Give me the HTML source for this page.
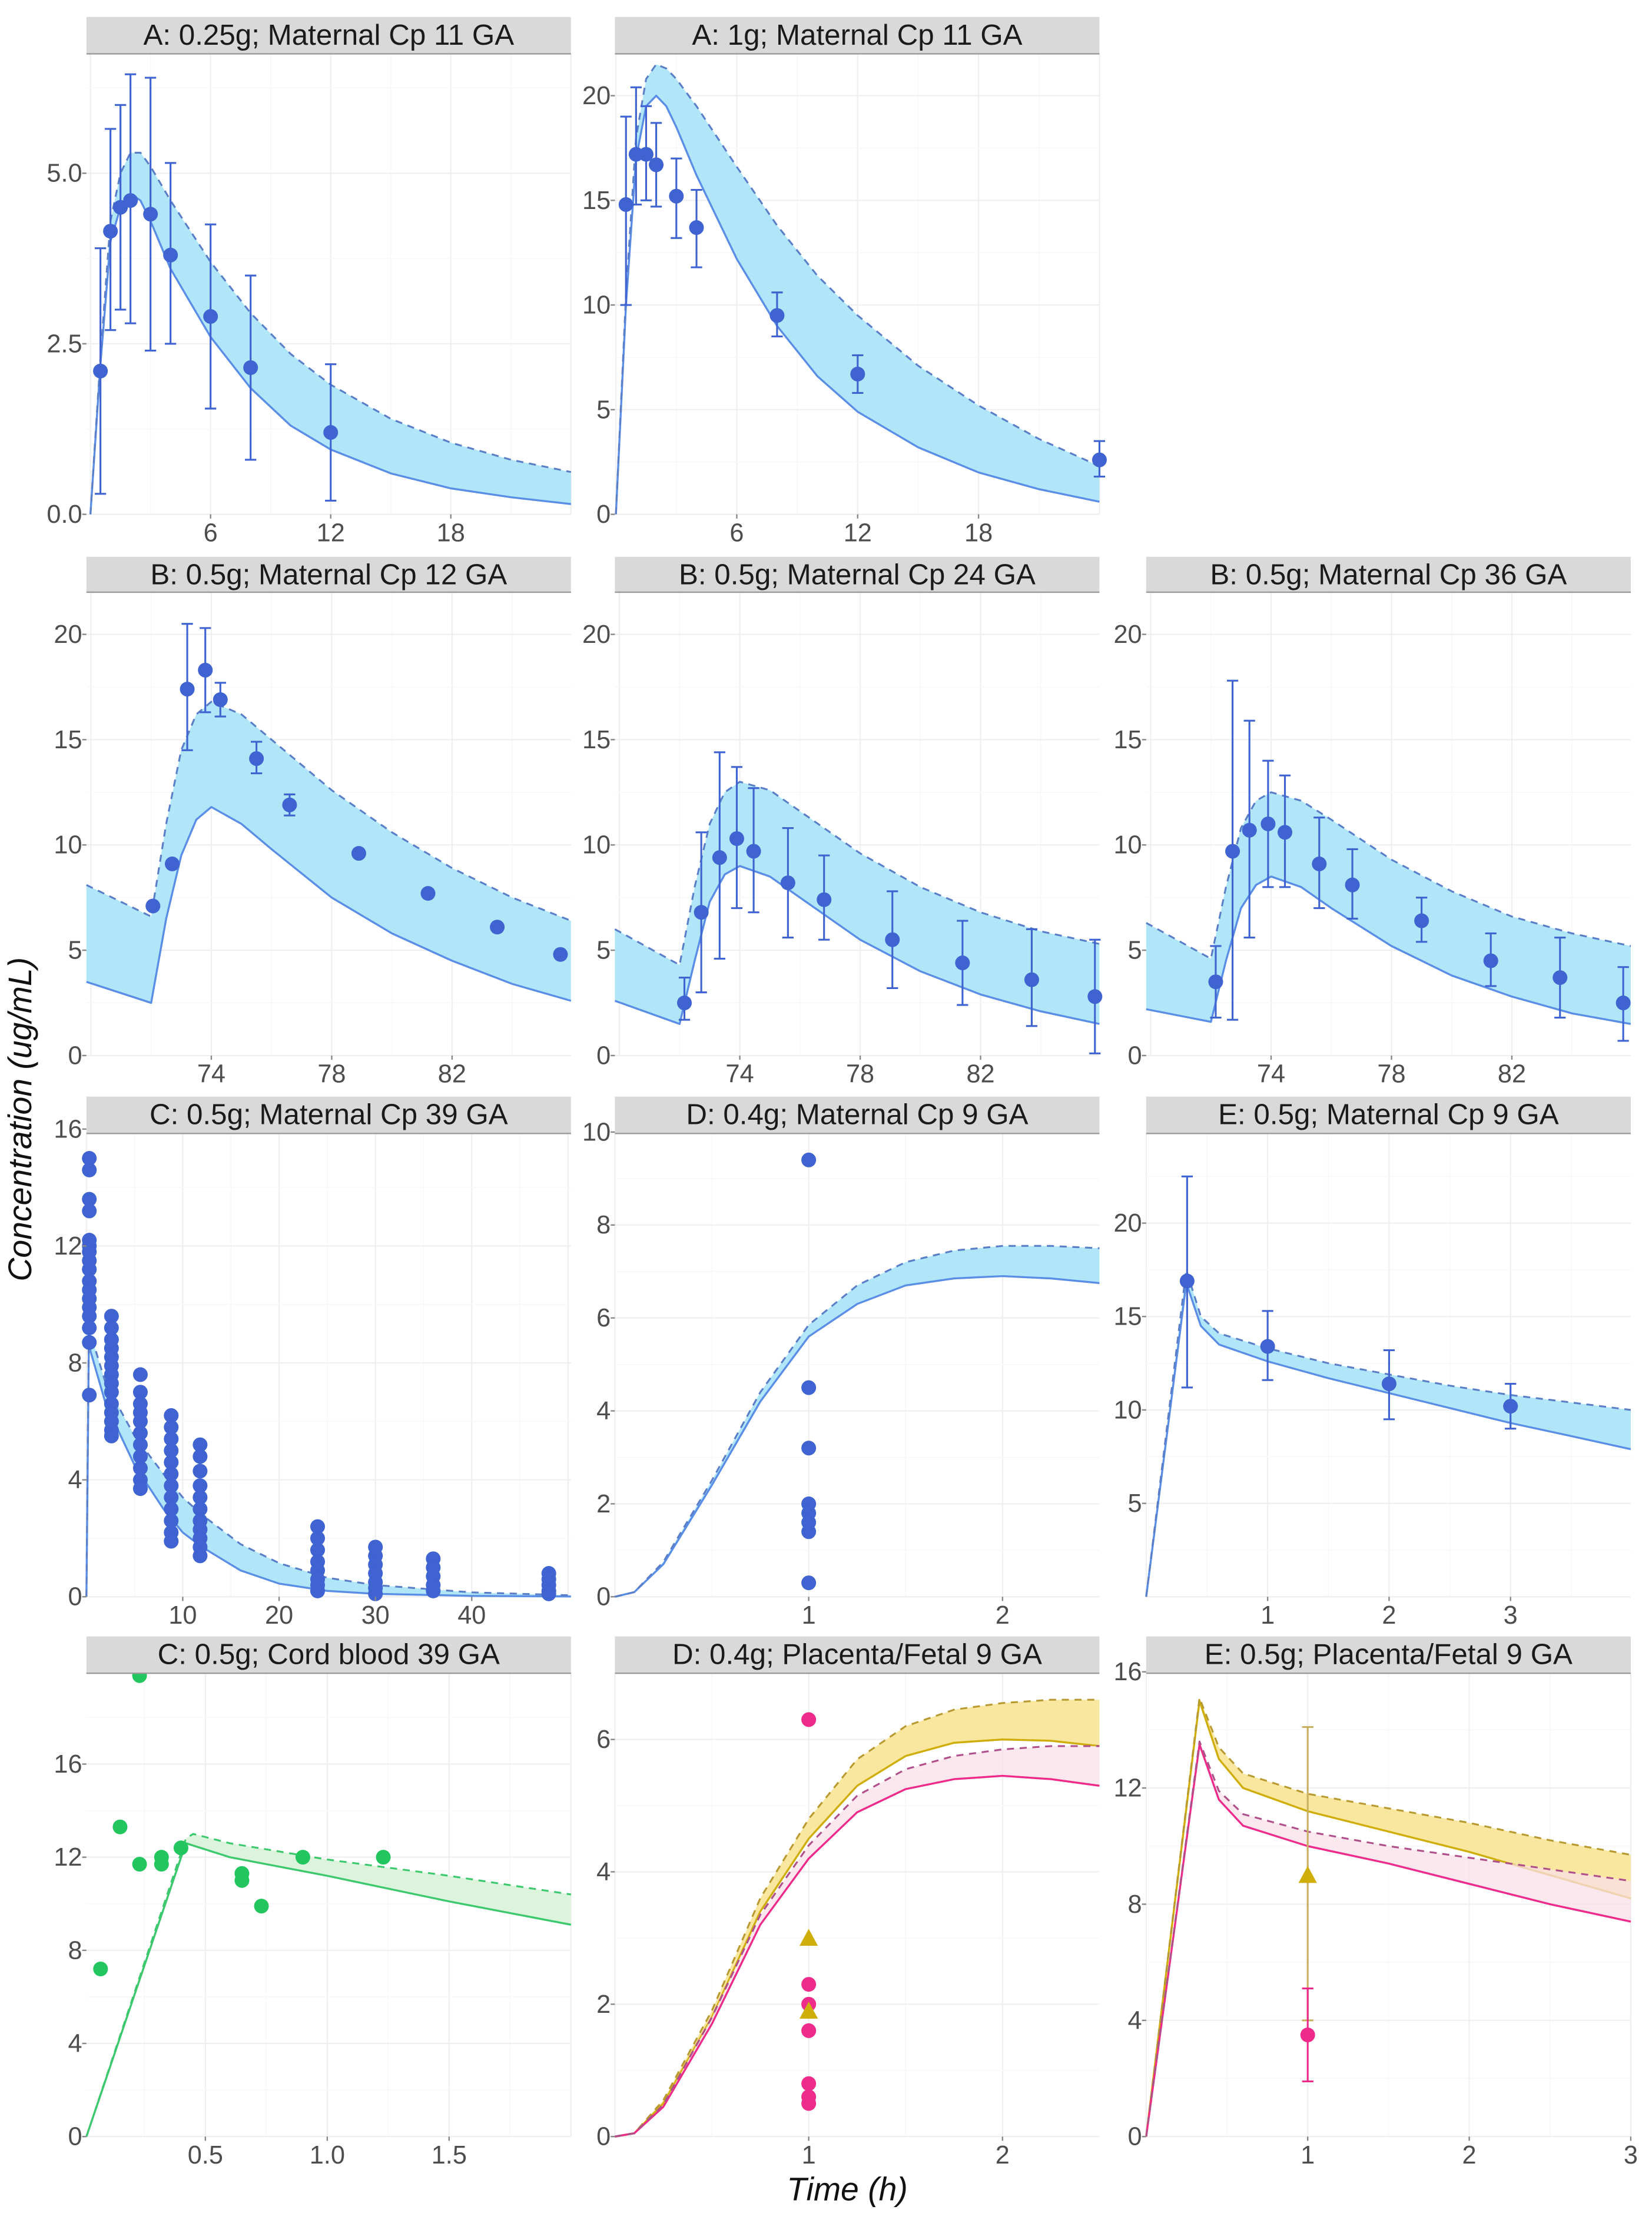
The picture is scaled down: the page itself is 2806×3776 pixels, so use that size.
<!DOCTYPE html>
<html><head><meta charset="utf-8"><style>
html,body{margin:0;padding:0;background:#fff}
svg{display:block}
text{font-family:"Liberation Sans",Arial,sans-serif}
</style></head><body>
<svg id="fig" width="2806" height="3776" viewBox="0 0 1166 1569" preserveAspectRatio="none" xmlns="http://www.w3.org/2000/svg">
<text x="0" y="0" transform="translate(22,790) rotate(-90)" text-anchor="middle" font-size="23" font-style="italic" fill="#111">Concentration (ug/mL)</text>
<text x="598" y="1553" text-anchor="middle" font-size="23" font-style="italic" fill="#111">Time (h)</text>
</svg>
<script>
// ---- Data arrays ----
const tA=[0,0.5,1,1.5,2,2.5,3,4,6,8,10,12,15,18,21,24];
const a1Lo=[0,2.2,4.0,4.5,4.7,4.6,4.3,3.6,2.6,1.85,1.3,0.95,0.6,0.38,0.25,0.15];
const a1Hi=[0,2.3,4.3,5.0,5.3,5.3,5.1,4.6,3.7,2.95,2.35,1.9,1.4,1.05,0.8,0.62];
const a1PtX=[0.5,1,1.5,2,3,4,6,8,12];
const a1PtY=[2.1,4.15,4.5,4.6,4.4,3.8,2.9,2.15,1.2];
const a1PtLo=[0.3,2.7,3.0,2.8,2.4,2.5,1.55,0.8,0.2];
const a1PtHi=[3.9,5.65,6.0,6.45,6.4,5.15,4.25,3.5,2.2];
const a2Lo=[0,10,17,19.5,20,19.5,18.5,16.2,12.2,9.0,6.6,4.9,3.2,2.0,1.2,0.6];
const a2Hi=[0,10.5,18,20.8,21.5,21.3,20.8,19.5,16.6,13.8,11.4,9.5,7.1,5.2,3.6,2.3];
const a2PtX=[0.5,1,1.5,2,3,4,8,12,24];
const a2PtY=[14.8,17.2,17.2,16.7,15.2,13.7,9.5,6.7,2.6];
const a2PtLo=[10,14.8,15,14.7,13.2,11.8,8.5,5.8,1.8];
const a2PtHi=[19,20.4,19.5,18.7,17,15.5,10.6,7.6,3.5];
const tB=[69.85,72,72.5,73,73.5,74,75,76,78,80,82,84,85.95];
const b12Lo=[3.5,2.5,6.5,9.5,11.2,11.8,11,9.8,7.5,5.8,4.5,3.4,2.6];
const b12Hi=[8.1,6.6,11,14.5,16.2,16.8,16.2,15,12.6,10.6,8.9,7.5,6.4];
const b12PtX=[72.06,72.7,73.2,73.8,74.3,75.5,76.6,78.9,81.2,83.5,85.6];
const b12PtY=[7.1,9.1,17.4,18.3,16.9,14.1,11.9,9.6,7.7,6.1,4.8];
const b12PtLo=[7.1,9.1,14.5,16.3,16.1,13.4,11.4,9.6,7.7,6.1,4.8];
const b12PtHi=[7.1,9.1,20.5,20.3,17.7,14.9,12.4,9.6,7.7,6.1,4.8];
const b24Lo=[2.6,1.5,4.5,7.3,8.6,9.0,8.5,7.5,5.5,4.0,2.9,2.1,1.5];
const b24Hi=[6.0,4.3,8,11,12.5,13.0,12.6,11.6,9.6,8.0,6.8,5.9,5.3];
const b24PtX=[72.16,72.72,73.33,73.9,74.46,75.6,76.8,79.07,81.4,83.7,85.8];
const b24PtY=[2.5,6.8,9.4,10.3,9.7,8.2,7.4,5.5,4.4,3.6,2.8];
const b24PtLo=[1.7,3,4.6,7,6.8,5.6,5.5,3.2,2.4,1.4,0.1];
const b24PtHi=[3.7,10.6,14.4,13.7,12.7,10.8,9.5,7.8,6.4,6,5.5];
const b36Lo=[2.2,1.6,4.5,7,8.1,8.5,8,7,5.2,3.8,2.8,2.0,1.5];
const b36Hi=[6.3,4.6,8,10.8,12.1,12.5,12.1,11.2,9.3,7.8,6.6,5.8,5.2];
const b36PtX=[72.16,72.72,73.28,73.9,74.46,75.6,76.7,79.0,81.3,83.6,85.7];
const b36PtY=[3.5,9.7,10.7,11,10.6,9.1,8.1,6.4,4.5,3.7,2.5];
const b36PtLo=[1.8,1.7,5.6,8,8,7,6.5,5.4,3.3,1.8,0.7];
const b36PtHi=[5.2,17.8,15.9,14,13.3,11.3,9.8,7.5,5.8,5.6,4.2];
const tC=[0,0.25,2,5,8,10,12,16,20,25,30,40,50.3];
const cLo=[0,8.6,6.6,4.5,3.0,2.2,1.7,0.9,0.45,0.2,0.1,0.03,0.01];
const cHi=[0,9.2,7.3,5.5,4.2,3.4,2.8,1.8,1.15,0.65,0.4,0.15,0.05];
const cTimes=[0.3,2.6,5.6,8.8,11.8,24,30,36,48];
const cVals=[
 [15,14.6,13.6,13.2,12.2,12,11.8,11.5,11.2,10.8,10.5,10.2,9.9,9.6,9.2,8.7,6.9],
 [9.6,9.2,8.8,8.5,8.2,7.9,7.6,7.3,7.0,6.6,6.3,6.0,5.7,5.5],
 [7.6,7.0,6.6,6.3,6.0,5.6,5.2,4.8,4.4,4.0,3.7],
 [6.2,5.8,5.4,5.0,4.6,4.2,3.8,3.4,3.0,2.6,2.2,1.9],
 [5.2,4.8,4.3,3.8,3.4,3.0,2.6,2.3,2.0,1.7,1.4],
 [2.4,2.0,1.6,1.2,0.9,0.6,0.4,0.2],
 [1.7,1.4,1.1,0.8,0.5,0.3,0.1],
 [1.3,1.0,0.7,0.4,0.2],
 [0.8,0.6,0.4,0.2,0.1]];
const tD=[0,0.1,0.25,0.5,0.75,1,1.25,1.5,1.75,2,2.25,2.5];
const dLo=[0,0.1,0.7,2.4,4.2,5.6,6.3,6.7,6.85,6.9,6.85,6.75];
const dHi=[0,0.1,0.75,2.5,4.4,5.85,6.7,7.2,7.45,7.55,7.55,7.5];
const dPtX=[1,1,1,1,1,1,1,1];
const dPtY=[9.4,4.5,3.2,2.0,1.8,1.6,1.4,0.3];
const tE=[0,0.33,0.45,0.6,1,1.5,2,2.5,3,3.5,3.99];
const eLo=[0,16.8,14.5,13.5,12.6,11.7,10.9,10.1,9.3,8.6,7.9];
const eHi=[0,17.5,15,14.1,13.3,12.5,11.9,11.3,10.8,10.4,10.0];
const ePtX=[0.337,1,2,3];
const ePtY=[16.9,13.4,11.4,10.2];
const ePtLo=[11.2,11.6,9.5,9.0];
const ePtHi=[22.5,15.3,13.2,11.4];
const tCord=[0.012,0.42,0.45,0.6,1.0,1.5,2.0];
const cordLo=[0,12.6,12.5,12.0,11.2,10.1,9.1];
const cordHi=[0,12.8,13.0,12.6,11.9,11.2,10.4];
const cordPtX=[0.07,0.15,0.23,0.23,0.32,0.32,0.4,0.65,0.65,0.73,0.9,1.23];
const cordPtY=[7.2,13.3,19.8,11.7,12.0,11.7,12.4,11.3,11.0,9.9,12.0,12.0];
const dpYLo=[0,0.05,0.5,1.8,3.4,4.5,5.3,5.75,5.95,6.0,5.98,5.9];
const dpYHi=[0,0.05,0.55,1.9,3.6,4.8,5.7,6.2,6.45,6.55,6.6,6.6];
const dpPLo=[0,0.05,0.45,1.7,3.2,4.2,4.9,5.25,5.4,5.45,5.4,5.3];
const dpPHi=[0,0.05,0.48,1.8,3.35,4.4,5.15,5.55,5.75,5.85,5.9,5.9];
const dpPinkX=[1,1,1,1,1,1,1];
const dpPinkY=[6.3,2.3,2.0,1.6,0.8,0.6,0.5];
const dpTriX=[1,1];
const dpTriY=[3.0,1.9];
const tEp=[0,0.33,0.45,0.6,1,1.5,2,2.5,3];
const epYLo=[0,15,13,12,11.2,10.5,9.8,9.0,8.2];
const epYHi=[0,15.1,13.4,12.5,11.8,11.3,10.8,10.2,9.7];
const epPLo=[0,13.5,11.6,10.7,10.0,9.4,8.7,8.0,7.4];
const epPHi=[0,13.6,11.9,11.1,10.5,10.0,9.6,9.2,8.8];
const epPinkX=[1],epPinkY=[3.5],epPinkLo=[1.9],epPinkHi=[5.1];
const epTriX=[1],epTriY=[9.0],epTriLo=[4.0],epTriHi=[14.1];

// ---- Drawing ----
const NS='http://www.w3.org/2000/svg';
const svg=document.getElementById('fig');
function mk(tag,attrs,parent){const e=document.createElementNS(NS,tag);for(const k in attrs)e.setAttribute(k,attrs[k]);(parent||svg).appendChild(e);return e;}
const BLUE='#3f63d1',BLINE='#5a8ee6',BFILL='#b0e6f7';
const GREEN='#22c55e',GFILL='#dcf3dc',GLINE='#3cc96e';
const PINK='#ee2a8a',PFILL='#f9dfe8';
const YEL='#cfae0a',YFILL='#f9e7a0';
const cols=[61,434,809],W=342;
const rows=[{s:12,p:38,b:363},{s:393,p:418,b:745},{s:774,p:800,b:1127},{s:1155,p:1181,b:1508}];

function panel(o){
 const g=mk('g',{});
 
 
 const x0=cols[o.c],r=rows[o.r],y0=r.p,y1=r.b;
 const X=v=>x0+(v-o.xr[0])/(o.xr[1]-o.xr[0])*W;
 const Y=v=>y1-(v-o.yr[0])/(o.yr[1]-o.yr[0])*(y1-y0);
 mk('rect',{x:x0,y:y0,width:W,height:y1-y0,fill:'#fff'},g);
 const grid=mk('g',{},g);
 
 
 const xs=o.xt,ys=o.yt;
 const xst=xs.length>1?xs[1]-xs[0]:1, yst=ys.length>1?ys[1]-ys[0]:1;
 for(let v=xs[0]-xst;v<=o.xr[1]+1e-9;v+=xst){ if(v>=o.xr[0]) mk('line',{x1:X(v),x2:X(v),y1:y0,y2:y1,stroke:'#efefef','stroke-width':0.9},grid); const m=v+xst/2; if(m>o.xr[0]&&m<o.xr[1]) mk('line',{x1:X(m),x2:X(m),y1:y0,y2:y1,stroke:'#f7f7f7','stroke-width':0.6},grid);}
 for(let v=ys[0]-yst;v<=o.yr[1]+1e-9;v+=yst){ if(v>=o.yr[0]) mk('line',{y1:Y(v),y2:Y(v),x1:x0,x2:x0+W,stroke:'#efefef','stroke-width':0.9},grid); const m=v+yst/2; if(m>o.yr[0]&&m<o.yr[1]) mk('line',{y1:Y(m),y2:Y(m),x1:x0,x2:x0+W,stroke:'#f7f7f7','stroke-width':0.6},grid);}
 (o.bands||[]).forEach(b=>{
  let d='M'+b.t.map((t,i)=>X(t)+','+Y(b.hi[i])).join('L');
  for(let i=b.t.length-1;i>=0;i--) d+='L'+X(b.t[i])+','+Y(b.lo[i]);
  const p=mk('path',{d:d+'Z',fill:b.fill,opacity:b.op||1},g);
  
  
  const l1=mk('polyline',{points:b.t.map((t,i)=>X(t)+','+Y(b.lo[i])).join(' '),fill:'none',stroke:b.line,'stroke-width':1.4,'stroke-linejoin':'round'},g);
  
  
  const l2=mk('polyline',{points:b.t.map((t,i)=>X(t)+','+Y(b.hi[i])).join(' '),fill:'none',stroke:b.dash,'stroke-width':1.3,'stroke-dasharray':'5,4','stroke-linejoin':'round'},g);
  
  
 });
 (o.pts||[]).forEach(s=>{
  s.x.forEach((xv,i)=>{
   if(s.lo && s.lo[i]!==s.hi[i]){
    const e=mk('path',{d:`M${X(xv)},${Y(s.lo[i])}V${Y(s.hi[i])}M${X(xv)-4},${Y(s.lo[i])}h8M${X(xv)-4},${Y(s.hi[i])}h8`,stroke:s.ecol||s.col,'stroke-width':1.3,fill:'none'},g);
    
    
   }
   let m;
   if(s.tri){const cx=X(xv),cy=Y(s.y[i]);m=mk('path',{d:`M${cx},${cy-6.5}L${cx+6.5},${cy+5.5}L${cx-6.5},${cy+5.5}Z`,fill:s.col},g);}
   else m=mk('circle',{cx:X(xv),cy:Y(s.y[i]),r:5.2,fill:s.col},g);
   
   
  });
 });
 const st=mk('rect',{x:x0,y:r.s,width:W,height:y0-r.s,fill:'#d9d9d9'},g);
 
 
 mk('line',{x1:x0,x2:x0+W,y1:y0,y2:y0,stroke:'#9a9a9a','stroke-width':1},g);
 const tt=mk('text',{x:x0+W/2,y:r.s+19.5,'text-anchor':'middle','font-size':20.5,fill:'#1a1a1a'},g);
 tt.textContent=o.title;
 
 
 o.xt.forEach((v,i)=>{const t=mk('text',{x:X(v),y:y1+19,'text-anchor':'middle','font-size':18,fill:'#4d4d4d'},g);t.textContent=o.xl[i];
  
  
  mk('line',{x1:X(v),x2:X(v),y1:y1,y2:y1+3,stroke:'#888'},g);});
 o.yt.forEach((v,i)=>{const t=mk('text',{x:x0-3,y:Y(v)+6,'text-anchor':'end','font-size':18,fill:'#4d4d4d'},g);t.textContent=o.yl[i];
  
  
  mk('line',{x1:x0-3,x2:x0,y1:Y(v),y2:Y(v),stroke:'#888'},g);});
}
const blueBand=(t,lo,hi)=>({name:'prediction',t,lo,hi,fill:BFILL,line:BLINE,dash:'#5a7fc8'});
panel({name:'panel-a-025g-11ga',c:0,r:0,title:'A: 0.25g; Maternal Cp 11 GA',xr:[-0.2,24],yr:[0,6.75],xt:[6,12,18],xl:['6','12','18'],yt:[0,2.5,5],yl:['0.0','2.5','5.0'],
 bands:[blueBand(tA,a1Lo,a1Hi)],pts:[{x:a1PtX,y:a1PtY,lo:a1PtLo,hi:a1PtHi,col:BLUE}]});
panel({name:'panel-a-1g-11ga',c:1,r:0,title:'A: 1g; Maternal Cp 11 GA',xr:[-0.05,24],yr:[0,22],xt:[6,12,18],xl:['6','12','18'],yt:[0,5,10,15,20],yl:['0','5','10','15','20'],
 bands:[blueBand(tA,a2Lo,a2Hi)],pts:[{x:a2PtX,y:a2PtY,lo:a2PtLo,hi:a2PtHi,col:BLUE}]});
const bopt={xr:[69.85,85.95],yr:[0,22],xt:[74,78,82],xl:['74','78','82'],yt:[0,5,10,15,20],yl:['0','5','10','15','20']};
panel(Object.assign({name:'panel-b-12ga',c:0,r:1,title:'B: 0.5g; Maternal Cp 12 GA',bands:[blueBand(tB,b12Lo,b12Hi)],pts:[{x:b12PtX,y:b12PtY,lo:b12PtLo,hi:b12PtHi,col:BLUE}]},bopt));
panel(Object.assign({name:'panel-b-24ga',c:1,r:1,title:'B: 0.5g; Maternal Cp 24 GA',bands:[blueBand(tB,b24Lo,b24Hi)],pts:[{x:b24PtX,y:b24PtY,lo:b24PtLo,hi:b24PtHi,col:BLUE}]},bopt));
panel(Object.assign({name:'panel-b-36ga',c:2,r:1,title:'B: 0.5g; Maternal Cp 36 GA',bands:[blueBand(tB,b36Lo,b36Hi)],pts:[{x:b36PtX,y:b36PtY,lo:b36PtLo,hi:b36PtHi,col:BLUE}]},bopt));
const cx=[],cy=[];cTimes.forEach((t,i)=>cVals[i].forEach(v=>{cx.push(t);cy.push(v);}));
panel({name:'panel-c-maternal-39ga',c:0,r:2,title:'C: 0.5g; Maternal Cp 39 GA',xr:[0,50.3],yr:[0,15.85],xt:[10,20,30,40],xl:['10','20','30','40'],yt:[0,4,8,12,16],yl:['0','4','8','12','16'],
 bands:[blueBand(tC,cLo,cHi)],pts:[{x:cx,y:cy,col:BLUE}]});
panel({name:'panel-d-maternal-9ga',c:1,r:2,title:'D: 0.4g; Maternal Cp 9 GA',xr:[0,2.5],yr:[0,9.97],xt:[1,2],xl:['1','2'],yt:[0,2,4,6,8,10],yl:['0','2','4','6','8','10'],
 bands:[blueBand(tD,dLo,dHi)],pts:[{x:dPtX,y:dPtY,col:BLUE}]});
panel({name:'panel-e-maternal-9ga',c:2,r:2,title:'E: 0.5g; Maternal Cp 9 GA',xr:[0,3.99],yr:[0,24.8],xt:[1,2,3],xl:['1','2','3'],yt:[5,10,15,20],yl:['5','10','15','20'],
 bands:[blueBand(tE,eLo,eHi)],pts:[{x:ePtX,y:ePtY,lo:ePtLo,hi:ePtHi,col:BLUE}]});
panel({name:'panel-c-cord-39ga',c:0,r:3,title:'C: 0.5g; Cord blood 39 GA',xr:[0.012,2.0],yr:[0,19.9],xt:[0.5,1.0,1.5],xl:['0.5','1.0','1.5'],yt:[0,4,8,12,16],yl:['0','4','8','12','16'],
 bands:[{name:'cord',t:tCord,lo:cordLo,hi:cordHi,fill:GFILL,line:GLINE,dash:GLINE}],pts:[{x:cordPtX,y:cordPtY,col:GREEN}]});
panel({name:'panel-d-placenta-fetal-9ga',c:1,r:3,title:'D: 0.4g; Placenta/Fetal 9 GA',xr:[0,2.5],yr:[0,7.0],xt:[1,2],xl:['1','2'],yt:[0,2,4,6],yl:['0','2','4','6'],
 bands:[{name:'placenta',t:tD,lo:dpYLo,hi:dpYHi,fill:YFILL,line:YEL,dash:'#b89a30'},{name:'fetal',t:tD,lo:dpPLo,hi:dpPHi,fill:PFILL,line:PINK,dash:'#b0508a',op:0.75}],
 pts:[{x:dpPinkX,y:dpPinkY,col:PINK},{x:dpTriX,y:dpTriY,col:YEL,tri:true}]});
panel({name:'panel-e-placenta-fetal-9ga',c:2,r:3,title:'E: 0.5g; Placenta/Fetal 9 GA',xr:[0,3.0],yr:[0,15.95],xt:[1,2,3],xl:['1','2','3'],yt:[0,4,8,12,16],yl:['0','4','8','12','16'],
 bands:[{name:'placenta',t:tEp,lo:epYLo,hi:epYHi,fill:YFILL,line:YEL,dash:'#b89a30'},{name:'fetal',t:tEp,lo:epPLo,hi:epPHi,fill:PFILL,line:PINK,dash:'#b0508a',op:0.75}],
 pts:[{x:epTriX,y:epTriY,lo:epTriLo,hi:epTriHi,col:YEL,ecol:'#c8b060',tri:true},{x:epPinkX,y:epPinkY,lo:epPinkLo,hi:epPinkHi,col:PINK}]});
</script>
</body></html>
